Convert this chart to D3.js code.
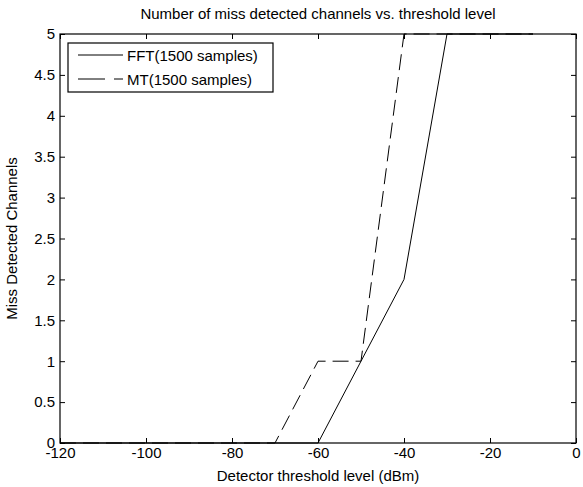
<!DOCTYPE html>
<html><head><meta charset="utf-8">
<script src="https://cdn.jsdelivr.net/npm/d3@7"></script>
<style>body{margin:0;background:#fff}svg{display:block}text{font-family:"Liberation Sans",Arial,sans-serif;fill:#000}</style>
</head><body><svg id="c" width="583" height="487"></svg>
<script>
const thresholds = [-120,-110,-100,-90,-80,-70,-60,-50,-40,-30,-20,-10];
const fftMissed = [0,0,0,0,0,0,0,1,2,5,5,5];
const mtMissed  = [0,0,0,0,0,0,1,1,5,5,5,5];
const xTicks = [-120,-100,-80,-60,-40,-20,0];
const yTicks = [0,0.5,1,1.5,2,2.5,3,3.5,4,4.5,5];
const seriesNames = ["FFT(1500 samples)","MT(1500 samples)"];

const svg = d3.select("#c");
const L=60,R=576,T=34,B=443;
const FS=15;
const x = d3.scaleLinear().domain([-120,0]).range([L,R]);
const y = d3.scaleLinear().domain([0,5]).range([B,T]);

svg.append("rect").attr("x",L).attr("y",T).attr("width",R-L).attr("height",B-T).attr("fill","none").attr("stroke","#000").attr("stroke-width",1.2);

const fmt = d=>String(d);
const gx = svg.append("g").attr("transform",`translate(0,${B})`).call(d3.axisBottom(x).tickValues(xTicks).tickFormat(fmt).tickSizeInner(-5).tickSizeOuter(0).tickPadding(3));
const gx2 = svg.append("g").attr("transform",`translate(0,${T})`).call(d3.axisTop(x).tickValues(xTicks).tickFormat("").tickSizeInner(-5).tickSizeOuter(0));
const gy = svg.append("g").attr("transform",`translate(${L},0)`).call(d3.axisLeft(y).tickValues(yTicks).tickFormat(fmt).tickSizeInner(-5).tickSizeOuter(0).tickPadding(5));
const gy2 = svg.append("g").attr("transform",`translate(${R},0)`).call(d3.axisRight(y).tickValues(yTicks).tickFormat("").tickSizeInner(-5).tickSizeOuter(0));
[gx,gx2,gy,gy2].forEach(g=>{g.select(".domain").remove();g.selectAll("line").attr("stroke","#000");g.selectAll("text").attr("font-size",FS).attr("font-family","Liberation Sans, Arial, sans-serif");});
gx.selectAll("text").attr("dy","0.8em");

const line = d3.line().x((d,i)=>x(thresholds[i])).y(d=>y(d));
svg.append("path").datum(fftMissed).attr("d",line).attr("fill","none").attr("stroke","#000").attr("stroke-width",1);
svg.append("path").datum(mtMissed).attr("d",line).attr("fill","none").attr("stroke","#000").attr("stroke-width",1).attr("stroke-dasharray","16,7");

svg.append("text").attr("x",(L+R)/2).attr("y",19).attr("text-anchor","middle").attr("font-size",FS).text("Number of miss detected channels vs. threshold level");
svg.append("text").attr("x",(L+R)/2).attr("y",481).attr("text-anchor","middle").attr("font-size",FS).text("Detector threshold level (dBm)");
svg.append("text").attr("transform",`translate(17,${(T+B)/2}) rotate(-90)`).attr("text-anchor","middle").attr("font-size",FS).text("Miss Detected Channels");

const lg = svg.append("g");
lg.append("rect").attr("x",68).attr("y",43).attr("width",205).attr("height",49).attr("fill","#fff").attr("stroke","#000").attr("stroke-width",1.2);
const dashes=[null,"27,9,10,10"];
seriesNames.forEach((n,i)=>{
  const yy=55+i*24;
  lg.append("line").attr("x1",78).attr("x2",123).attr("y1",yy).attr("y2",yy).attr("stroke","#000").attr("stroke-dasharray",dashes[i]);
  lg.append("text").attr("x",127).attr("y",yy+5.5).attr("font-size",FS).text(n);
});
</script></body></html>
